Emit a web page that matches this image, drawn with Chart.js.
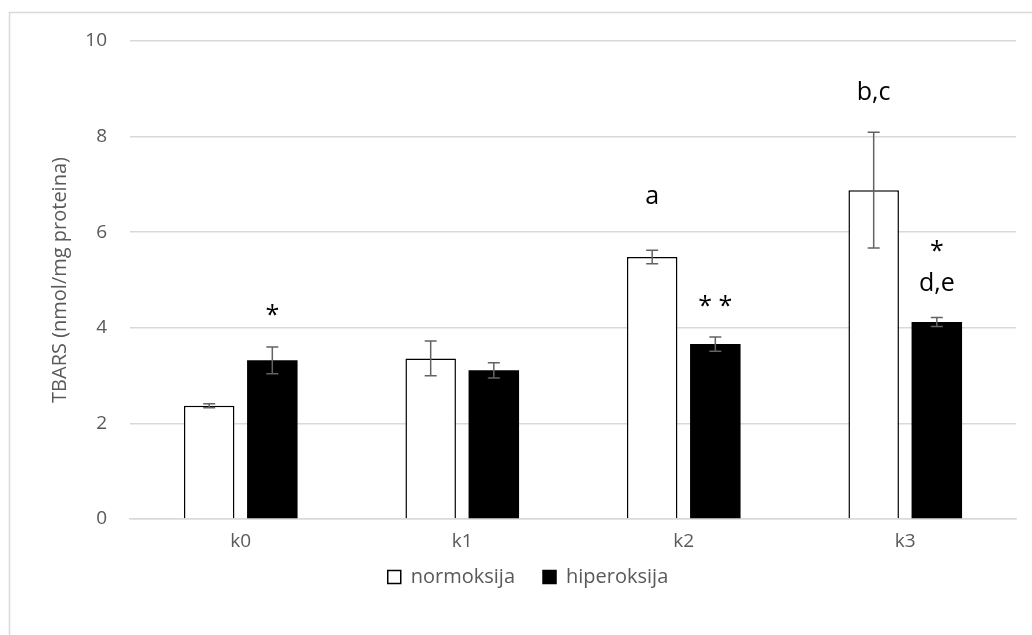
<!DOCTYPE html>
<html>
<head>
<meta charset="utf-8">
<script src="https://cdn.jsdelivr.net/npm/chart.js@4"></script>
<style>
html,body{margin:0;padding:0;background:#fff;}
#wrap{width:1032px;height:635px;position:relative;}
</style>
</head>
<body>
<div id="wrap"><canvas id="c" width="1032" height="635"></canvas></div>
<script>
const categories = ['k0', 'k1', 'k2', 'k3'];
const normoksija = [2.37, 3.36, 5.48, 6.88];
const normoksijaErr = [0.04, 0.365, 0.14, 1.21];
const hiperoksija = [3.32, 3.11, 3.66, 4.12];
const hiperoksijaErr = [0.28, 0.16, 0.15, 0.095];
const yTicks = [0, 2, 4, 6, 8, 10];
// annotation labels: [datasetIndex, categoryIndex, text, baseline value]
const annotations = [
  [1, 0, '*', 4.10],
  [0, 2, 'a', 6.58],
  [1, 2, '* *', 4.29],
  [0, 3, 'b,c', 8.76],
  [1, 3, '*', 5.43],
  [1, 3, 'd,e', 4.78]
];
const errors = [normoksijaErr, hiperoksijaErr];

const FONT = "'Open Sans', 'Liberation Sans', sans-serif";
const GREY = '#595959';

const frame = {
  id: 'frame',
  beforeDraw(chart) {
    const ctx = chart.ctx;
    ctx.save();
    ctx.fillStyle = '#fff';
    ctx.fillRect(0, 0, chart.width, chart.height);
    ctx.strokeStyle = '#d9d9d9';
    ctx.lineWidth = 1.5;
    ctx.strokeRect(9.5, 12.5, chart.width + 20, chart.height + 20);
    ctx.restore();
  }
};

// legend box: fixed reserved height, then shifted to sit closer to the axis labels
const legendPlace = {
  id: 'legendPlace',
  beforeLayout(chart) {
    const lg = chart.legend;
    if (lg && !lg._patched) {
      const f = lg.fit;
      lg.fit = function () { f.call(this); this.height = 81; };
      lg._patched = true;
    }
  },
  afterLayout(chart) {
    const lg = chart.legend;
    if (lg) {
      const h = lg.bottom - lg.top;
      lg.top = 539; lg.bottom = 539 + h;
      lg.left += 20; lg.right += 20;
    }
  }
};

const errorBars = {
  id: 'errorBars',
  afterDatasetsDraw(chart) {
    const ctx = chart.ctx;
    const y = chart.scales.y;
    ctx.save();
    ctx.strokeStyle = '#636363';
    ctx.lineWidth = 1.5;
    chart.data.datasets.forEach((ds, di) => {
      const meta = chart.getDatasetMeta(di);
      meta.data.forEach((bar, i) => {
        const v = ds.data[i], e = errors[di][i];
        const yt = y.getPixelForValue(v + e);
        const yb = y.getPixelForValue(v - e);
        const x = bar.x;
        ctx.beginPath();
        ctx.moveTo(x, yt); ctx.lineTo(x, yb);
        ctx.moveTo(x - 6, yt); ctx.lineTo(x + 6, yt);
        ctx.moveTo(x - 6, yb); ctx.lineTo(x + 6, yb);
        ctx.stroke();
      });
    });
    ctx.fillStyle = '#000';
    ctx.font = '25px ' + FONT;
    ctx.textAlign = 'center';
    ctx.textBaseline = 'alphabetic';
    annotations.forEach(([di, ci, txt, val]) => {
      const bar = chart.getDatasetMeta(di).data[ci];
      ctx.fillText(txt, bar.x, y.getPixelForValue(val));
    });
    ctx.restore();
  }
};

new Chart(document.getElementById('c'), {
  type: 'bar',
  data: {
    labels: categories,
    datasets: [
      {
        label: 'normoksija',
        data: normoksija,
        backgroundColor: '#ffffff',
        borderColor: '#000000',
        borderWidth: {top: 1.5, left: 1.5, right: 1.5, bottom: 0},
        borderSkipped: false,
        barPercentage: 0.8,
        categoryPercentage: 0.57
      },
      {
        label: 'hiperoksija',
        data: hiperoksija,
        backgroundColor: '#000000',
        borderColor: '#000000',
        borderWidth: 0,
        barPercentage: 0.8,
        categoryPercentage: 0.57
      }
    ]
  },
  options: {
    responsive: false,
    animation: false,
    devicePixelRatio: 1,
    layout: {padding: {left: 0, right: 16, top: 41, bottom: 0}},
    scales: {
      x: {
        grid: {display: false, drawTicks: false},
        border: {display: true, color: '#d9d9d9', width: 1.5},
        ticks: {color: GREY, font: {family: FONT, size: 19}, padding: 11},
        afterFit(s) { s.height = 35; }
      },
      y: {
        min: 0, max: 10,
        afterBuildTicks(s) { s.ticks = yTicks.map(v => ({value: v})); },
        grid: {color: '#d9d9d9', lineWidth: 1.5, drawTicks: false},
        border: {display: false},
        ticks: {color: GREY, font: {family: FONT, size: 19}, padding: 23},
        title: {display: true, text: 'TBARS (nmol/mg proteina)', color: GREY,
                font: {family: FONT, size: 20}, padding: {top: 48, bottom: 0}},
        afterFit(s) { s.width = 130; }
      }
    },
    plugins: {
      legend: {
        position: 'bottom',
        labels: {
          color: GREY,
          font: {family: FONT, size: 20},
          boxWidth: 13, boxHeight: 13, padding: 28,
          generateLabels(chart) {
            return chart.data.datasets.map((ds, i) => ({
              text: ds.label,
              fillStyle: ds.backgroundColor,
              strokeStyle: '#000',
              lineWidth: 1.5,
              fontColor: GREY,
              datasetIndex: i,
              hidden: false
            }));
          }
        }
      },
      tooltip: {enabled: false}
    }
  },
  plugins: [frame, legendPlace, errorBars]
});
</script>
</body>
</html>
